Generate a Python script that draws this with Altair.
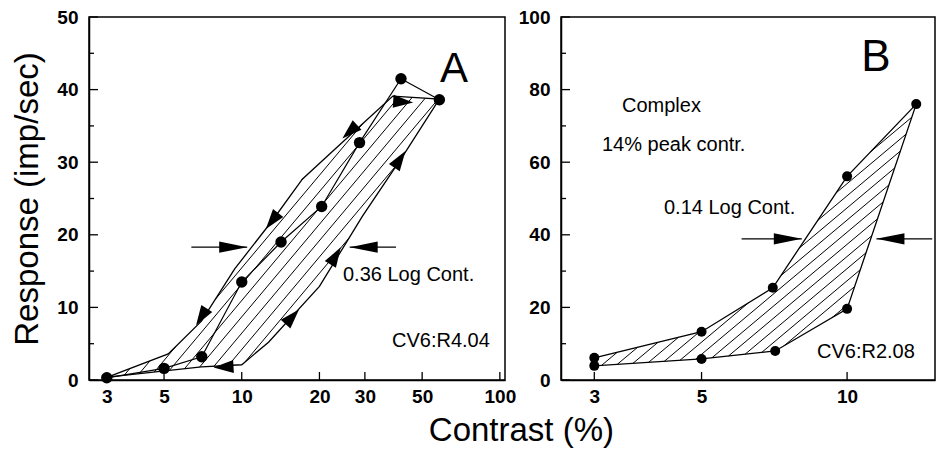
import altair as alt
import pandas as pd
import numpy as np

# ---------------- Panel A data ----------------
a_x = [3, 5, 7, 10, 14.2, 20.4, 28.6, 41.4, 58.3]
a_y = [0.3, 1.6, 3.2, 13.5, 19.0, 23.9, 32.7, 41.5, 38.6]
a_up_x = [3.02, 5.19, 6.98, 9.39, 13.1, 17.2, 22.5, 29.4, 38.5, 58.3]
a_up_y = [0.4, 3.6, 8.1, 15.3, 21.9, 27.7, 31.5, 35.3, 39.1, 38.7]
a_lo_x = [3.02, 6.98, 10.0, 12.7, 20.0, 29.4, 42.2, 58.3]
a_lo_y = [0.4, 1.8, 2.1, 5.2, 12.9, 22.6, 30.9, 38.7]
a_dir_x = [6.98, 13.1, 26.2, 42.2, 41.0, 23.1, 15.7, 8.5]
a_dir_y = [8.7, 21.9, 34.2, 38.3, 30.4, 17.1, 8.7, 1.8]
a_dir_sense = [-1, -1, -1, 1, 1, 1, 1, -1]
a_width_y = 18.3
a_width_left = [6.38, 10.5]    # tail, tip
a_width_right = [39.6, 26.2]   # tail, tip
a_xticks = [3, 5, 10, 20, 30, 50, 100]
a_yticks = [0, 10, 20, 30, 40, 50]
a_yminor = [5, 15, 25, 35, 45]
a_texts = ["A", "0.36 Log Cont.", "CV6:R4.04"]

# ---------------- Panel B data ----------------
b_up_x = [3, 5, 7.02, 10, 13.9]
b_up_y = [6.1, 13.3, 25.4, 56.1, 76.0]
b_lo_x = [3, 5, 7.1, 10, 13.9]
b_lo_y = [3.9, 5.8, 8.0, 19.6, 76.0]
b_width_y = 38.9
b_width_left = [6.05, 8.06]
b_width_right = [15.0, 11.5]
b_xticks = [3, 5, 10]
b_yticks = [0, 20, 40, 60, 80, 100]
b_yminor = [10, 30, 50, 70, 90]
b_texts = ["B", "Complex", "14% peak contr.", "0.14 Log Cont.", "CV6:R2.08"]

FONT = "Liberation Sans"
A_W, A_H = 416, 363
B_W, B_H = 374, 363
A_XDOM, A_YDOM = [2.56, 104.7], [0, 50]
B_XDOM, B_YDOM = [2.56, 15.2], [0, 100]


def to_px(x, y, xdom, ydom, W, H):
    lx0, lx1 = np.log10(xdom[0]), np.log10(xdom[1])
    px = W * (np.log10(np.asarray(x, float)) - lx0) / (lx1 - lx0)
    py = H * (1 - (np.asarray(y, float) - ydom[0]) / (ydom[1] - ydom[0]))
    return px, py


def to_data(px, py, xdom, ydom, W, H):
    lx0, lx1 = np.log10(xdom[0]), np.log10(xdom[1])
    x = 10 ** (lx0 + px / W * (lx1 - lx0))
    y = ydom[0] + (1 - py / H) * (ydom[1] - ydom[0])
    return x, y


def hatch(poly_x, poly_y, xdom, ydom, W, H, angle, spacing):
    px, py = to_px(poly_x, poly_y, xdom, ydom, W, H)
    pts = np.column_stack([px, py])
    phi = np.radians(angle)
    d = np.array([np.cos(phi), -np.sin(phi)])
    n = np.array([np.sin(phi), np.cos(phi)])
    proj = pts @ n
    rows = []
    m = len(pts)
    c = np.floor(proj.min() / spacing) * spacing + spacing * 0.5
    while c < proj.max():
        hits = []
        for i in range(m):
            p, q = pts[i], pts[(i + 1) % m]
            a, b = p @ n - c, q @ n - c
            if (a < 0) != (b < 0):
                t = a / (a - b)
                hits.append(p + t * (q - p))
        hits.sort(key=lambda r: r @ d)
        for k in range(0, len(hits) - 1, 2):
            x1, y1 = to_data(hits[k][0], hits[k][1], xdom, ydom, W, H)
            x2, y2 = to_data(hits[k + 1][0], hits[k + 1][1], xdom, ydom, W, H)
            rows.append({"x": x1, "y": y1, "x2": x2, "y2": y2})
        c += spacing
    return pd.DataFrame(rows)


def dir_angles(mx, my, sense, poly_x, poly_y, xdom, ydom, W, H):
    ppx, ppy = to_px(poly_x, poly_y, xdom, ydom, W, H)
    pts = np.column_stack([ppx, ppy])
    mpx, mpy = to_px(mx, my, xdom, ydom, W, H)
    out = []
    m = len(pts)
    for X, Y, s in zip(mpx, mpy, sense):
        best, bv = 1e9, None
        for i in range(m):
            p, q = pts[i], pts[(i + 1) % m]
            v = q - p
            L2 = v @ v
            if L2 == 0:
                continue
            t = np.clip(((np.array([X, Y]) - p) @ v) / L2, 0, 1)
            dist = np.hypot(*(p + t * v - np.array([X, Y])))
            if dist < best:
                best, bv = dist, v
        if np.sign(bv[0]) != s:
            bv = -bv
        out.append(float(np.degrees(np.arctan2(bv[0], -bv[1])) % 360))
    return out


TRI = "M0,-1L0.65,1L-0.65,1Z"
HEAD_R = "M0,0L-2,-0.4L-2,0.4Z"
HEAD_L = "M0,0L2,-0.4L2,0.4Z"


def panel(W, H, xdom, ydom, up_x, up_y, lo_x, lo_y, xticks, yticks, yminor,
          hatch_angle, hatch_space, width_y, wl, wr, circ_x, circ_y, circ_size,
          texts, text_pos, text_sizes, ytitle, dirs=None, data_line=None):
    xs = alt.Scale(type="log", domain=xdom, nice=False)
    ys = alt.Scale(domain=ydom, nice=False)
    xaxis = alt.Axis(values=xticks, format="d", title=None, labelPadding=7,
                     labelFlush=False)
    if ytitle:
        yaxis = alt.Axis(values=yticks, title=ytitle, titleFontSize=33, titleFont=FONT,
                         titleFontWeight="normal", titleColor="black", titlePadding=12,
                         labelPadding=11)
    else:
        yaxis = alt.Axis(values=yticks, title=None, labelPadding=11)

    def X(f):
        return alt.X(f, type="quantitative", scale=xs, axis=xaxis)

    def Y(f):
        return alt.Y(f, type="quantitative", scale=ys, axis=yaxis)

    lo_rev_x = list(lo_x[::-1])
    lo_rev_y = list(lo_y[::-1])
    if (lo_rev_x[0], lo_rev_y[0]) == (up_x[-1], up_y[-1]):
        lo_rev_x, lo_rev_y = lo_rev_x[1:], lo_rev_y[1:]
    if (lo_rev_x[-1], lo_rev_y[-1]) == (up_x[0], up_y[0]):
        lo_rev_x, lo_rev_y = lo_rev_x[:-1], lo_rev_y[:-1]
    poly_x = list(up_x) + lo_rev_x
    poly_y = list(up_y) + lo_rev_y

    hdf = hatch(poly_x, poly_y, xdom, ydom, W, H, hatch_angle, hatch_space)
    layers = []
    layers.append(alt.Chart(hdf).mark_rule(color="black", strokeWidth=1).encode(
        x=X("x"), y=Y("y"), x2="x2", y2="y2"))

    odf = pd.DataFrame({"x": poly_x + [poly_x[0]], "y": poly_y + [poly_y[0]],
                        "i": list(range(len(poly_x) + 1))})
    layers.append(alt.Chart(odf).mark_line(color="black", strokeWidth=1.3).encode(
        x=X("x"), y=Y("y"), order="i:Q"))

    if data_line is not None:
        ldf = pd.DataFrame({"x": data_line[0], "y": data_line[1],
                            "i": list(range(len(data_line[0])))})
        layers.append(alt.Chart(ldf).mark_line(color="black", strokeWidth=1.2).encode(
            x=X("x"), y=Y("y"), order="i:Q"))

    cdf = pd.DataFrame({"x": circ_x, "y": circ_y})
    layers.append(alt.Chart(cdf).mark_circle(color="black", opacity=1, size=circ_size).encode(
        x=X("x"), y=Y("y")))

    if dirs is not None:
        mx, my, ms = dirs
        ang = dir_angles(mx, my, ms, poly_x, poly_y, xdom, ydom, W, H)
        ddf = pd.DataFrame({"x": mx, "y": my, "a": ang})
        layers.append(alt.Chart(ddf).mark_point(shape=TRI, filled=True, color="black",
                                                 opacity=1, size=400, strokeWidth=0).encode(
            x=X("x"), y=Y("y"), angle=alt.Angle("a:Q", scale=None)))

    wdf = pd.DataFrame({"x": [wl[0], wr[0]], "x2": [wl[1], wr[1]], "y": [width_y, width_y]})
    layers.append(alt.Chart(wdf).mark_rule(color="black", strokeWidth=1.3).encode(
        x=X("x"), x2="x2", y=Y("y")))
    layers.append(alt.Chart(pd.DataFrame({"x": [wl[1]], "y": [width_y]})).mark_point(
        shape=HEAD_R, filled=True, color="black", opacity=1, size=784, strokeWidth=0).encode(
        x=X("x"), y=Y("y")))
    layers.append(alt.Chart(pd.DataFrame({"x": [wr[1]], "y": [width_y]})).mark_point(
        shape=HEAD_L, filled=True, color="black", opacity=1, size=784, strokeWidth=0).encode(
        x=X("x"), y=Y("y")))

    # inward ticks
    layers.append(alt.Chart(pd.DataFrame({"v": yticks})).mark_rule(color="black", strokeWidth=1.3).encode(
        y=Y("v"), x=alt.value(0), x2=alt.value(9)))
    layers.append(alt.Chart(pd.DataFrame({"v": yminor})).mark_rule(color="black", strokeWidth=1.3).encode(
        y=Y("v"), x=alt.value(0), x2=alt.value(5)))
    layers.append(alt.Chart(pd.DataFrame({"v": xticks})).mark_rule(color="black", strokeWidth=1.3).encode(
        x=X("v"), y=alt.value(H), y2=alt.value(H - 8)))

    for t, (tx, ty, al), fs in zip(texts, text_pos, text_sizes):
        layers.append(alt.Chart(pd.DataFrame({"t": [t]})).mark_text(
            font=FONT, fontSize=fs, color="black", align=al, baseline="alphabetic").encode(
            text="t:N", x=alt.value(tx), y=alt.value(ty)))

    return alt.layer(*layers).properties(width=W, height=H)


chart_a = panel(A_W, A_H, A_XDOM, A_YDOM, a_up_x, a_up_y, a_lo_x, a_lo_y,
                a_xticks, a_yticks, a_yminor, 50, 10.5, a_width_y,
                a_width_left, a_width_right, a_x, a_y, 130,
                a_texts, [(365, 65, "center"), (254, 264, "left"), (303, 330, "left")],
                [42, 20, 20], "Response (imp/sec)",
                dirs=(a_dir_x, a_dir_y, a_dir_sense), data_line=(a_x, a_y))

b_cx = b_up_x + b_lo_x[:-1]
b_cy = b_up_y + b_lo_y[:-1]
chart_b = panel(B_W, B_H, B_XDOM, B_YDOM, b_up_x, b_up_y, b_lo_x, b_lo_y,
                b_xticks, b_yticks, b_yminor, 40, 9.3, b_width_y,
                b_width_left, b_width_right, b_cx, b_cy, 100,
                b_texts, [(315, 54, "center"), (61, 95, "left"), (41, 134, "left"),
                          (103, 197, "left"), (256, 341, "left")],
                [44, 20, 20, 20, 20], None)

chart = alt.hconcat(chart_a, chart_b, spacing=0).properties(
    title=alt.TitleParams(text="Contrast (%)", orient="bottom", anchor="middle",
                          fontSize=33, font=FONT, fontWeight="normal", color="black",
                          dx=48, offset=8),
    padding={"left": 11, "top": 7, "right": 0, "bottom": 0},
    background="white",
).configure_view(stroke="black", strokeWidth=1.5).configure_axis(
    labelFont=FONT, labelFontSize=19, labelFontWeight="bold", labelColor="black",
    domainColor="black", domainWidth=1.5, ticks=False, grid=False,
)

chart.save("out.html", embed_options={"renderer": "svg", "actions": False})
